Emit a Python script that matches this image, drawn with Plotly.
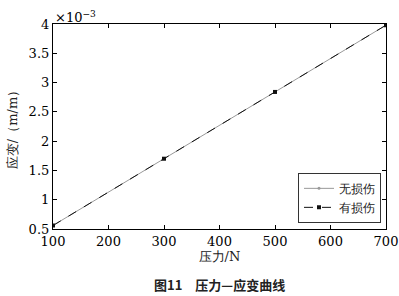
import plotly.graph_objects as go

pressure = [100, 300, 500, 700]
strain_undamaged = [0.56, 1.70, 2.84, 3.98]
strain_damaged = [0.56, 1.70, 2.84, 3.98]
x_ticks = [100, 200, 300, 400, 500, 600, 700]
y_ticks = [0.5, 1, 1.5, 2, 2.5, 3, 3.5, 4]
y_tick_text = ["0.5", "1", "1.5", "2", "2.5", "3", "3.5", "4"]

serif = "DejaVu Serif"

fig = go.Figure()
fig.add_trace(go.Scatter(
    x=pressure, y=strain_undamaged, name="无损伤", mode="lines+markers",
    line=dict(color="#999999", width=1),
    marker=dict(symbol="circle", size=3, color="#999999"),
))
fig.add_trace(go.Scatter(
    x=pressure, y=strain_damaged, name="有损伤", mode="lines+markers",
    line=dict(color="#111111", width=1, dash="dash"),
    marker=dict(symbol="square", size=4, color="#111111"),
))

axis_common = dict(
    showline=True, linecolor="black", linewidth=1.2, mirror="ticks",
    ticks="inside", ticklen=4, tickcolor="black", showgrid=False, zeroline=False,
    tickfont=dict(family=serif, size=13, color="black"), automargin=False,
)
fig.update_xaxes(range=[100, 700], tickvals=x_ticks,
                 title=dict(text="压力/N", font=dict(family=serif, size=13, color="#222222"), standoff=4),
                 **axis_common)
fig.update_yaxes(range=[0.5, 4], tickvals=y_ticks, ticktext=y_tick_text,
                 title=dict(text="应变/（m/m）", font=dict(family=serif, size=13, color="#222222"), standoff=8),
                 **axis_common)

fig.add_annotation(text="×10<sup>−3</sup>", xref="paper", yref="paper", x=0.0, y=1.0,
                   xanchor="left", yanchor="bottom", showarrow=False,
                   font=dict(family=serif, size=13, color="black"), yshift=-3)
fig.add_annotation(text="<b>图11　压力—应变曲线</b>", xref="paper", yref="paper",
                   x=0.5, y=0, xanchor="center", yanchor="middle", showarrow=False,
                   yshift=-55, font=dict(family="Noto Sans CJK SC", size=13, color="#222222"))

fig.update_layout(
    width=399, height=296,
    margin=dict(l=53, r=13, t=24, b=67),
    paper_bgcolor="white", plot_bgcolor="white",
    showlegend=True,
    legend=dict(x=0.985, y=0.03, xanchor="right", yanchor="bottom",
                bgcolor="white", bordercolor="#333333", borderwidth=1,
                font=dict(family=serif, size=12, color="#222222"),
                itemwidth=30, tracegroupgap=0),
)
fig.write_html("out.html")
